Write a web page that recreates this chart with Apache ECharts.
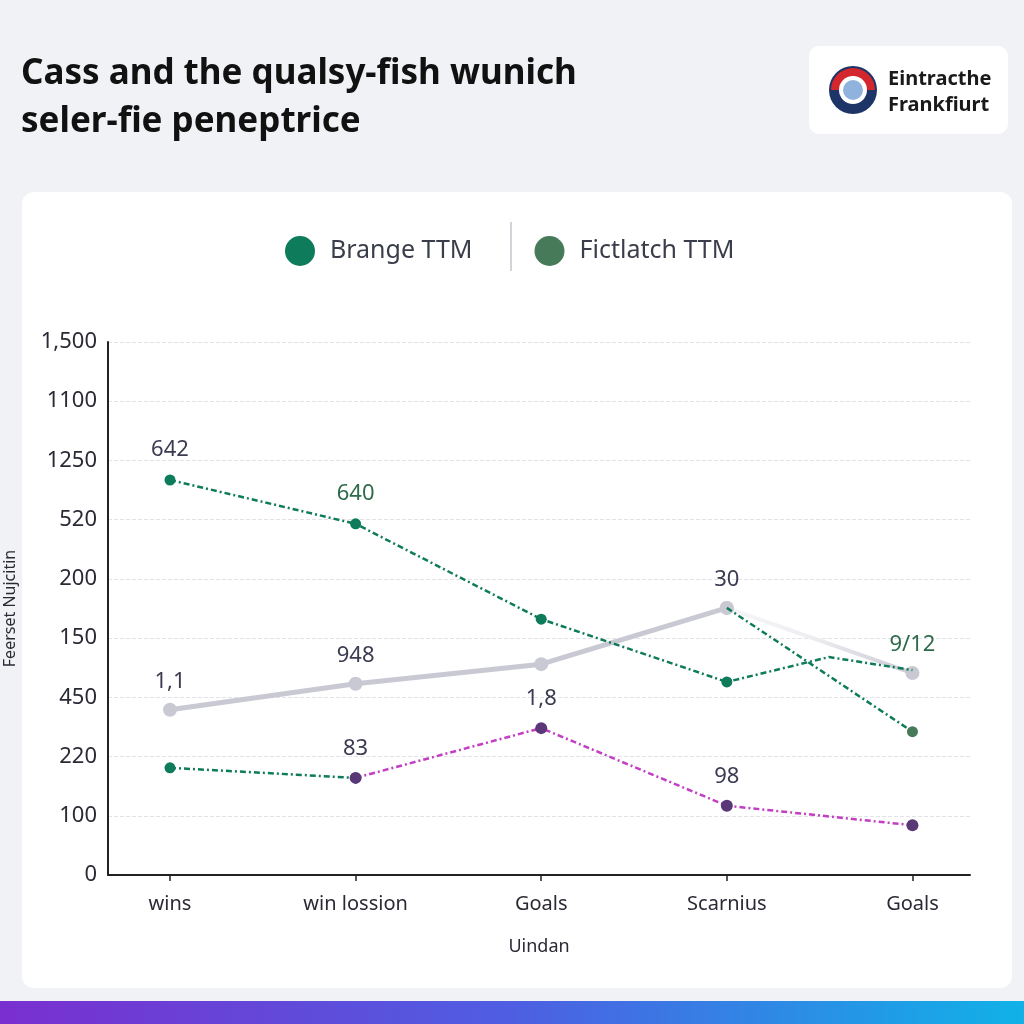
<!DOCTYPE html>
<html><head><meta charset="utf-8">
<script src="https://cdn.jsdelivr.net/npm/echarts@6/dist/echarts.min.js"></script>
<style>html,body{margin:0;padding:0;background:#f1f2f6}#c{width:1024px;height:1024px}</style>
</head><body><div id="c"></div>
<script>
// ---- data ----
const categories = ['wins', 'win lossion', 'Goals', 'Scarnius', 'Goals'];
const yTickLabels = ['0', '100', '220', '450', '150', '200', '520', '1250', '1100', '1,500'];
// values are in y-axis tick-position units (0..9), x in category index units
const brangeX = [0, 1, 2, 3, 3.55, 4];
const brangeY = [6.67, 5.93, 4.32, 3.26, 3.68, 3.46];
const fictlatchY = [null, null, null, 4.51, 2.42];
const greyY = [2.79, 3.23, 3.56, 4.51, 3.41];
const purpleY = [null, 1.64, 2.48, 1.17, 0.84];
const lowGreenY = [1.81, 1.64, null, null, null];
const greyLabels = ['1,1', '948', '', '30', '9/12'];
const brangeLabels = ['642', '640', '', '', '', ''];
const purpleLabels = ['', '83', '1,8', '98', ''];

const FONT = 'Noto Sans';
const GREEN = '#0e7c5a';
const GREEN2 = '#467a58';
const GREY = '#c9c9d3';
const MAGENTA = '#c23ec4';
const PURPLE = '#5a3878';
const DARK = '#3b3b52';
const LABEL_GREEN = '#2f6b4a';
const dashDot = [6, 3, 2, 3];

const chart = echarts.init(document.getElementById('c'), null, {renderer: 'canvas'});

const greyMain = greyY.map((v, i) => (i <= 3 ? {value: [i, v], label: {show: i !== 2}} : null)).filter(Boolean);
const greyTail = greyY.map((v, i) => ({value: [i, v]})).filter((d, i) => i >= 3);

chart.setOption({
  backgroundColor: 'transparent',
  animation: false,
  title: {
    text: 'Cass and the qualsy-fish wunich\nseler-fie peneptrice',
    left: 16, top: 45,
    textStyle: {fontFamily: FONT, fontSize: 35, fontWeight: 'bold', color: '#111', lineHeight: 48}
  },
  graphic: [
    {type: 'rect', z: -10, shape: {x: 22, y: 192, width: 990, height: 796, r: 12}, style: {fill: '#ffffff'}},
    {type: 'rect', z: -10, shape: {x: 0, y: 1001, width: 1024, height: 23},
      style: {fill: new echarts.graphic.LinearGradient(0, 0, 1, 0, [
        {offset: 0, color: '#7a2fd0'}, {offset: 0.5, color: '#4e5ee2'}, {offset: 1, color: '#10b2e8'}])}},
    {type: 'rect', z: -10, shape: {x: 809, y: 46, width: 199, height: 88, r: 10}, style: {fill: '#ffffff'}},
    {type: 'circle', shape: {cx: 853, cy: 90, r: 24}, style: {fill: '#1d3566'}},
    {type: 'sector', shape: {cx: 853, cy: 90, r0: 0, r: 22, startAngle: Math.PI, endAngle: Math.PI * 2}, style: {fill: '#d3272d'}},
    {type: 'circle', shape: {cx: 853, cy: 90, r: 14}, style: {fill: '#ffffff'}},
    {type: 'circle', shape: {cx: 853, cy: 90, r: 10}, style: {fill: '#8fb3dc'}},
    {type: 'text', left: 888, top: 66, style: {text: 'Eintracthe\nFrankfiurt', font: 'bold 20px "Noto Sans"', fill: '#1a1a1a', lineHeight: 26}},
    {type: 'line', shape: {x1: 511, y1: 222, x2: 511, y2: 271}, style: {stroke: '#c4c4cc', lineWidth: 1.5}}
  ],
  legend: {
    data: ['Brange TTM', 'Fictlatch TTM'],
    left: 280, top: 231, itemGap: 62, icon: 'circle', itemWidth: 30, itemHeight: 30,
    textStyle: {fontFamily: FONT, fontSize: 25, color: '#3a3d4a', padding: [0, 0, 0, 10]}
  },
  grid: {left: 108, right: 54, top: 342, bottom: 149, containLabel: false, outerBoundsMode: 'none'},
  xAxis: {
    type: 'value', min: -0.334, max: 4.31,
    name: 'Uindan', nameLocation: 'middle', nameGap: 63,
    nameTextStyle: {fontFamily: FONT, fontSize: 18, color: '#2a2a35'},
    axisLine: {show: true, onZero: false, lineStyle: {color: '#222', width: 2}},
    axisTick: {show: true, customValues: [0, 1, 2, 3, 4], length: 6, lineStyle: {color: '#222', width: 1.5}},
    axisLabel: {customValues: [0, 1, 2, 3, 4], formatter: (v) => categories[Math.round(v)] || '',
      fontFamily: FONT, fontSize: 20, color: '#2a2a35', margin: 19},
    splitLine: {show: false}
  },
  yAxis: {
    type: 'value', min: 0, max: 9, interval: 1,
    name: 'Feerset Nujcitin', nameLocation: 'middle', nameGap: 90, nameRotate: 90,
    nameTextStyle: {fontFamily: FONT, fontSize: 16, color: '#2a2a35'},
    axisLine: {show: true, onZero: false, lineStyle: {color: '#222', width: 2}},
    axisTick: {show: false},
    axisLabel: {formatter: (v) => yTickLabels[Math.round(v)], fontFamily: FONT, fontSize: 22, color: '#2a2a35', margin: 11},
    splitLine: {show: true, lineStyle: {color: '#e2e2e8', type: 'dashed', width: 1}}
  },
  series: [
    {
      name: 'grey', type: 'line', data: greyMain, z: 2,
      lineStyle: {color: GREY, width: 5}, itemStyle: {color: GREY},
      symbol: 'circle', symbolSize: 14,
      label: {show: true, position: 'top', distance: 10, fontFamily: FONT, fontSize: 22,
        formatter: (p) => greyLabels[p.data.value[0]], color: DARK}
    },
    {
      name: 'greyTail', type: 'line', data: greyTail, z: 2,
      lineStyle: {width: 4, color: new echarts.graphic.LinearGradient(0, 0, 1, 0, [
        {offset: 0, color: '#f6f6f9'}, {offset: 0.45, color: '#eeeef2'}, {offset: 1, color: GREY}])},
      itemStyle: {color: GREY},
      symbol: 'circle', symbolSize: 14,
      label: {show: true, position: 'top', distance: 10, fontFamily: FONT, fontSize: 22,
        formatter: (p) => (p.data.value[0] === 4 ? greyLabels[4] : ''), color: LABEL_GREEN}
    },
    {
      name: 'Brange TTM', type: 'line', z: 3,
      data: brangeX.map((x, i) => ({value: [x, brangeY[i]], symbol: i >= 4 ? 'none' : 'circle',
        label: i === 1 ? {color: LABEL_GREEN} : undefined})),
      lineStyle: {color: GREEN, width: 2.5, type: dashDot}, itemStyle: {color: GREEN},
      symbol: 'circle', symbolSize: 11,
      label: {show: true, position: 'top', distance: 14, fontFamily: FONT, fontSize: 22,
        formatter: (p) => brangeLabels[p.dataIndex], color: DARK}
    },
    {
      name: 'Fictlatch TTM', type: 'line', z: 3,
      data: fictlatchY.map((v, i) => ({value: [i, v], symbol: i === 3 ? 'none' : 'circle'})),
      lineStyle: {color: GREEN, width: 2.5, type: dashDot}, itemStyle: {color: GREEN2},
      symbol: 'circle', symbolSize: 11
    },
    {
      name: 'lowGreen', type: 'line', data: lowGreenY.map((v, i) => [i, v]), z: 3,
      lineStyle: {color: GREEN, width: 2.5, type: dashDot}, itemStyle: {color: GREEN},
      symbol: 'circle', symbolSize: 11
    },
    {
      name: 'purple', type: 'line', data: purpleY.map((v, i) => [i, v]), z: 4,
      lineStyle: {color: MAGENTA, width: 2.5, type: dashDot}, itemStyle: {color: PURPLE},
      symbol: 'circle', symbolSize: 12,
      label: {show: true, position: 'top', distance: 12, fontFamily: FONT, fontSize: 22,
        formatter: (p) => purpleLabels[p.dataIndex], color: DARK}
    }
  ]
});
</script>
</body></html>
